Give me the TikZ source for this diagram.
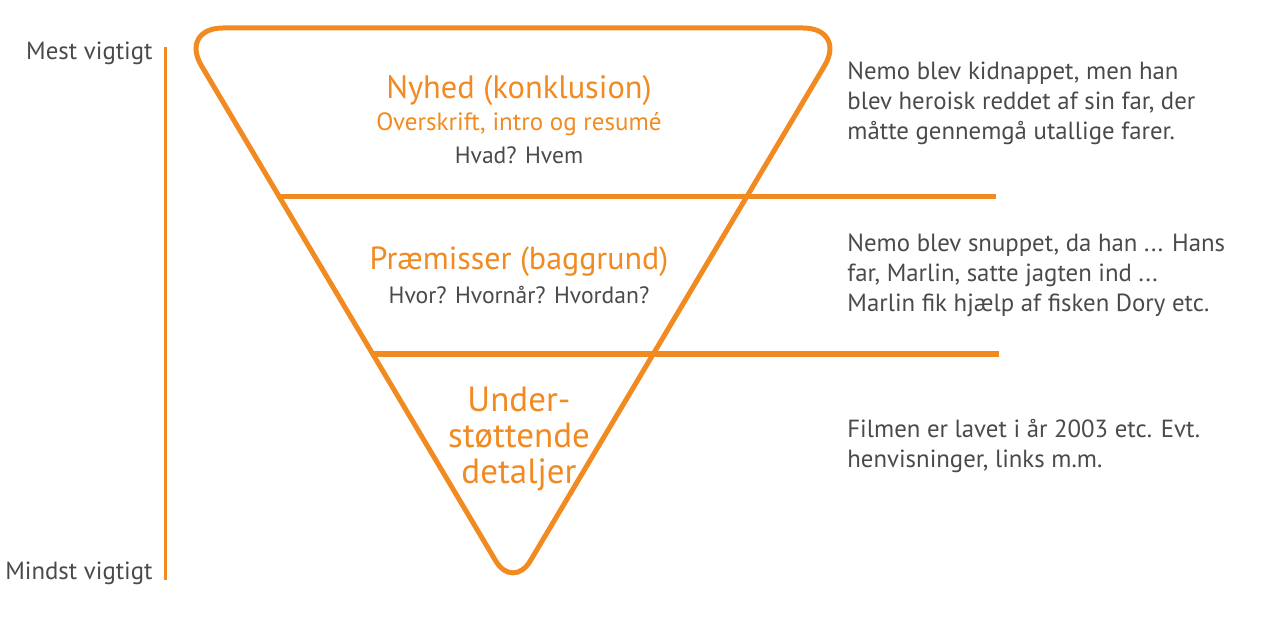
\documentclass[tikz,border=0pt]{standalone}
\usepackage{fontspec}
\setmainfont{PT Sans}
\usetikzlibrary{positioning}

\definecolor{nemoorange}{HTML}{F18A21}
\definecolor{nemogray}{HTML}{4A4A4A}

\tikzset{
	kant/.style={draw=nemoorange,line width=2.5pt},
	akselinje/.style={draw=nemoorange,line width=1.5pt},
	rubrik/.style={text=nemoorange,font=\fontsize{16.2}{18}\selectfont,inner sep=0pt},
	underrubrik/.style={text=nemoorange,font=\fontsize{12.5}{15}\selectfont,inner sep=0pt},
	spoergsmaal/.style={text=nemogray,font=\fontsize{11.8}{14}\selectfont,inner sep=0pt},
	eksempel/.style={text=nemogray,font=\fontsize{12.4}{15}\selectfont,align=left,anchor=north west,inner sep=0pt},
	akse/.style={text=nemogray,font=\fontsize{12.4}{14}\selectfont,anchor=east,inner sep=0pt},
}

\begin{document}
\begin{tikzpicture}[x=0.5pt,y=-0.5pt]
	\useasboundingbox (0,0) rectangle (1262,641);
	% den omvendte trekant
	\draw[kant,rounded corners=22pt] (513,28) -- (847,28) [rounded corners=17pt] -- (513,590) [rounded corners=22pt] -- (179,28) -- cycle;
	% skillelinjer
	\coordinate (linje1v) at (277,197);
	\coordinate (linje1h) at (996,197);
	\coordinate (linje2v) at (372,354);
	\coordinate (linje2h) at (999,354);
	\draw[kant] (linje1v) -- (linje1h);
	\draw[kant] (linje2v) -- (linje2h);
	% akse
	\coordinate (akseTop) at (165,47);
	\coordinate (akseBund) at (165,580);
	\draw[akselinje] (akseTop) -- (akseBund);
	\node[akse] (mest) at (153,53) {Mest vigtigt};
	\node[akse] (mindst) at (153,573) {Mindst vigtigt};
	% tekst i trekanten
	\node[rubrik] (nyhed) at (519,91) {Nyhed (konklusion)};
	\node[underrubrik] (overskrift) at (519,124) {Overskrift, intro og resumé};
	\node[spoergsmaal] (hvad) at (519,155) {Hvad? Hvem};
	\node[rubrik,font=\fontsize{16}{18}\selectfont] (praemisser) at (519,262) {Præmisser (baggrund)};
	\node[spoergsmaal] (hvor) at (519,295) {Hvor? Hvornår? Hvordan?};
	\node[rubrik,align=center,font=\fontsize{17.5}{18}\selectfont] (detaljer) at (519,439) {Under-\\støttende\\detaljer};
	% eksempler til hoejre
	\node[eksempel] (eks1) at (847,61) {Nemo blev kidnappet, men han\\blev heroisk reddet af sin far, der\\måtte gennemgå utallige farer.};
	\node[eksempel] (eks2) at (847,233) {Nemo blev snuppet, da han ... Hans\\far, Marlin, satte jagten ind ...\\Marlin fik hjælp af fisken Dory etc.};
	\node[eksempel] (eks3) at (847,419) {Filmen er lavet i år 2003 etc. Evt.\\henvisninger, links m.m.};
\end{tikzpicture}
\end{document}
